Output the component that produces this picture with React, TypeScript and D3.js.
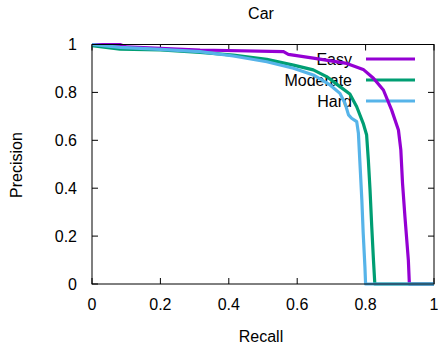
import React from "react";
import * as d3 from "d3";

const easyRecall = [0, 0.082, 0.1, 0.2, 0.316, 0.56, 0.574, 0.647, 0.745, 0.793, 0.823, 0.852, 0.876, 0.896, 0.903, 0.908, 0.915, 0.925, 0.928, 1];
const easyPrec = [1, 1, 0.99, 0.984, 0.977, 0.97, 0.959, 0.943, 0.921, 0.896, 0.859, 0.81, 0.727, 0.643, 0.56, 0.42, 0.281, 0.1, 0, 0];

const modRecall = [0, 0.082, 0.2, 0.316, 0.413, 0.511, 0.589, 0.647, 0.686, 0.725, 0.754, 0.774, 0.793, 0.803, 0.808, 0.813, 0.818, 0.823, 0.827, 1];
const modPrec = [0.995, 0.981, 0.977, 0.967, 0.956, 0.938, 0.914, 0.894, 0.866, 0.824, 0.793, 0.74, 0.671, 0.622, 0.518, 0.392, 0.239, 0.1, 0, 0];

const hardRecall = [0, 0.082, 0.2, 0.316, 0.413, 0.511, 0.589, 0.647, 0.696, 0.725, 0.74, 0.75, 0.759, 0.774, 0.779, 0.784, 0.789, 0.793, 0.798, 0.8, 1];
const hardPrec = [1, 0.988, 0.98, 0.97, 0.952, 0.928, 0.901, 0.873, 0.831, 0.796, 0.754, 0.706, 0.692, 0.678, 0.629, 0.49, 0.351, 0.212, 0.072, 0, 0];

const seriesNames = ["Easy", "Moderate", "Hard"];
const seriesColors = ["#9400d3", "#009e73", "#56b4e9"];
const tickValues = [0, 0.2, 0.4, 0.6, 0.8, 1];

export default function App() {
  const W = 438, H = 352;
  const L = 92, R = 434, T = 44.5, B = 284;
  const x = d3.scaleLinear().domain([0, 1]).range([L, R]);
  const y = d3.scaleLinear().domain([0, 1]).range([B, T]);
  const line = d3.line<[number, number]>().x(d => x(d[0])).y(d => y(d[1]));
  const series = [
    easyRecall.map((r, i) => [r, easyPrec[i]] as [number, number]),
    modRecall.map((r, i) => [r, modPrec[i]] as [number, number]),
    hardRecall.map((r, i) => [r, hardPrec[i]] as [number, number]),
  ];
  const font = "'Liberation Sans', Arial, sans-serif";
  const fs = 16;
  const tl = 6;
  return (
    <svg width={W} height={H} style={{ position: "absolute", left: 0, top: 0 }} fontFamily={font}>
      <rect width={W} height={H} fill="#fff" />
      <text x={261} y={18.5} textAnchor="middle" fontSize={fs}>Car</text>
      {tickValues.map(v => (
        <g key={"x" + v}>
          <line x1={x(v)} x2={x(v)} y1={B} y2={B - tl} stroke="#000" />
          <line x1={x(v)} x2={x(v)} y1={T} y2={T + tl} stroke="#000" />
          <text x={x(v)} y={310} textAnchor="middle" fontSize={fs}>{String(v)}</text>
        </g>
      ))}
      {tickValues.map(v => (
        <g key={"y" + v}>
          <line x1={L} x2={L + tl} y1={y(v)} y2={y(v)} stroke="#000" />
          <line x1={R} x2={R - tl} y1={y(v)} y2={y(v)} stroke="#000" />
          <text x={77} y={y(v) + 5.5} textAnchor="end" fontSize={fs}>{String(v)}</text>
        </g>
      ))}
      <text x={261} y={342} textAnchor="middle" fontSize={fs}>Recall</text>
      <text transform={`translate(22,165) rotate(-90)`} textAnchor="middle" fontSize={fs}>Precision</text>
      {seriesNames.map((n, i) => (
        <g key={n}>
          <text x={352} y={64.5 + i * 21} textAnchor="end" fontSize={fs}>{n}</text>
          <line x1={366} x2={415} y1={59 + i * 21} y2={59 + i * 21} stroke={seriesColors[i]} strokeWidth={3.2} />
        </g>
      ))}
      {series.map((s, i) => (
        <path key={i} d={line(s) || ""} fill="none" stroke={seriesColors[i]} strokeWidth={3.2} strokeLinejoin="round" />
      ))}
      <rect x={L} y={T} width={R - L} height={B - T} fill="none" stroke="#000" />
    </svg>
  );
}
